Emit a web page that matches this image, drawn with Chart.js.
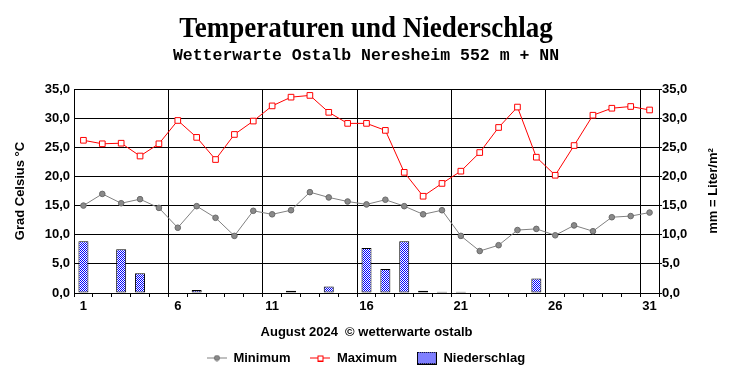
<!DOCTYPE html>
<html>
<head>
<meta charset="utf-8">
<script src="https://cdn.jsdelivr.net/npm/chart.js@4/dist/chart.umd.min.js"></script>
<style>
html,body{margin:0;padding:0;background:#fff;}
#wrap{width:732px;height:380px;position:relative;}
</style>
</head>
<body>
<div id="wrap"><canvas id="c" width="732" height="380"></canvas></div>
<script>
// ---- data ----
const days = ['1','2','3','4','5','6','7','8','9','10','11','12','13','14','15','16','17','18','19','20','21','22','23','24','25','26','27','28','29','30','31'];
const tickLabels = ['1','6','11','16','21','26','31'];
const minTemp = [15.0,17.0,15.4,16.1,14.6,11.2,14.9,12.9,9.8,14.1,13.5,14.2,17.3,16.4,15.7,15.2,16.0,14.9,13.5,14.2,9.8,7.2,8.2,10.8,11.0,9.9,11.6,10.6,13.0,13.2,13.8];
const maxTemp = [26.2,25.6,25.7,23.5,25.6,29.6,26.7,22.9,27.2,29.5,32.1,33.6,33.9,31.0,29.1,29.1,27.9,20.7,16.6,18.8,20.9,24.1,28.4,31.9,23.3,20.2,25.3,30.5,31.7,32.0,31.4];
const precip = [8.9,0,7.5,3.4,0,0,0.5,0,0,0,0,0.4,0,1.1,0,7.7,4.1,8.9,0.4,0.2,0.2,0,0,0,2.5,0,0,0,0,0,0];
const seriesNames = ['Minimum','Maximum','Niederschlag'];
const titleText = 'Temperaturen und Niederschlag';
const subtitleText = 'Wetterwarte Ostalb Neresheim 552 m + NN';
const xTitle = 'August 2024  \u00A9 wetterwarte ostalb';
const yLeftTitle = 'Grad Celsius \u00B0C';
const yRightTitle = 'mm = Liter/m\u00B2';
const axisMin = 0, axisMax = 35, axisStep = 5;

// ---- styles ----
const SANS = '"Liberation Sans", Arial, sans-serif';
const lblFont = {family: SANS, weight: 'bold', size: 13};
const minColor = '#808080';
const maxColor = '#ff0000';

// dotted blue pattern for precipitation bars
const pc = document.createElement('canvas');
pc.width = 2; pc.height = 2;
const pcx = pc.getContext('2d');
pcx.fillStyle = '#ffffff'; pcx.fillRect(0,0,2,2);
pcx.fillStyle = '#0000ff'; pcx.fillRect(0,0,1,1); pcx.fillRect(1,1,1,1);
const barPattern = pcx.createPattern(pc, 'repeat');

// legend icons
function icon(w, h, draw){ const c=document.createElement('canvas'); c.width=w; c.height=h; draw(c.getContext('2d')); return c; }
const minIcon = icon(20, 7, g => {
  g.strokeStyle = minColor; g.lineWidth = 1; g.beginPath(); g.moveTo(0,3.5); g.lineTo(20,3.5); g.stroke();
  g.fillStyle = '#8a8a8a'; g.strokeStyle='#6a6a6a'; g.beginPath(); g.arc(10,3.5,2.6,0,Math.PI*2); g.fill(); g.stroke();
});
const maxIcon = icon(20, 7, g => {
  g.strokeStyle = maxColor; g.lineWidth = 1; g.beginPath(); g.moveTo(0,3.5); g.lineTo(20,3.5); g.stroke();
  g.fillStyle = '#fff'; g.fillRect(7.5,1.5,5,5); g.strokeRect(7.5,1.5,5,5);
});
const barIcon = icon(20, 13, g => {
  g.fillStyle = barPattern; g.fillRect(0,0,20,13);
  g.strokeStyle = '#000'; g.lineWidth = 1; g.strokeRect(0.5,0.5,19,12);
});
const legendIcons = [minIcon, maxIcon, barIcon];

const fmt = v => Number(v).toFixed(1).replace('.', ',');

const textPlugin = {
  id: 'textPlugin',
  afterDraw(chart) {
    const ctx = chart.ctx, ca = chart.chartArea;
    ctx.save();
    ctx.fillStyle = '#000';
    ctx.textAlign = 'center';
    ctx.textBaseline = 'alphabetic';
    ctx.save();
    ctx.translate(366, 37);
    ctx.scale(0.9, 1);
    ctx.font = 'bold 30px "Liberation Serif", "Times New Roman", serif';
    ctx.fillText(titleText, 0, 0);
    ctx.restore();
    ctx.font = 'bold 16.5px "Liberation Mono", "Courier New", monospace';
    ctx.fillText(subtitleText, 366, 60);
    ctx.save();
    ctx.translate(713, (ca.top + ca.bottom) / 2);
    ctx.rotate(-Math.PI / 2);
    ctx.textBaseline = 'middle';
    ctx.font = 'bold 13px ' + SANS;
    ctx.fillText(yRightTitle, 0, 0);
    ctx.restore();
    ctx.restore();
  }
};

Chart.defaults.font.family = SANS;
Chart.defaults.color = '#000';

new Chart(document.getElementById('c'), {
  type: 'bar',
  data: {
    labels: days,
    datasets: [
      {
        type: 'line', label: seriesNames[0], data: minTemp, yAxisID: 'y',
        borderColor: minColor, borderWidth: 1, tension: 0,
        pointStyle: 'circle', pointRadius: 2.8, pointBackgroundColor: '#8a8a8a',
        pointBorderColor: '#6a6a6a', pointBorderWidth: 1
      },
      {
        type: 'line', label: seriesNames[1], data: maxTemp, yAxisID: 'y',
        borderColor: maxColor, borderWidth: 1, tension: 0,
        pointStyle: 'rect', pointRadius: 4, pointBackgroundColor: '#ffffff',
        pointBorderColor: maxColor, pointBorderWidth: 1
      },
      {
        type: 'bar', label: seriesNames[2], data: precip, yAxisID: 'y1',
        backgroundColor: barPattern, borderColor: '#000', borderWidth: 1,
        borderSkipped: false, barPercentage: 0.53, categoryPercentage: 1
      }
    ]
  },
  options: {
    responsive: false,
    animation: false,
    devicePixelRatio: 1,
    layout: {padding: {top: 89, left: 0, right: 0, bottom: 5.5}},
    plugins: {
      tooltip: {enabled: false},
      title: {display: false},
      legend: {
        position: 'bottom',
        labels: {
          usePointStyle: true, pointStyleWidth: 20, padding: 20,
          color: '#000', font: lblFont,
          generateLabels(chart) {
            const items = Chart.defaults.plugins.legend.labels.generateLabels(chart);
            items.forEach(it => { it.pointStyle = legendIcons[it.datasetIndex]; });
            return items;
          }
        }
      }
    },
    scales: {
      x: {
        type: 'category', offset: true,
        grid: {
          offset: true, lineWidth: 1, drawTicks: true, tickLength: 4, tickColor: '#000',
          color: c => (c.index > 0 && c.index < days.length && c.index % 5 === 0) ? '#000' : 'rgba(0,0,0,0)'
        },
        border: {color: '#000', width: 1},
        ticks: {
          autoSkip: false, maxRotation: 0, minRotation: 0, padding: 2, color: '#000', font: lblFont,
          callback: (v, i) => tickLabels.includes(days[i]) ? days[i] : ''
        },
        title: {display: true, text: xTitle, color: '#000', font: lblFont, padding: {top: 0, bottom: -8.3}},
        afterFit: s => { s.height = 38.5; }
      },
      y: {
        position: 'left', min: axisMin, max: axisMax,
        ticks: {stepSize: axisStep, callback: fmt, color: '#000', font: lblFont, padding: 4},
        grid: {color: '#000', lineWidth: 1, drawTicks: false},
        border: {color: '#000', width: 1},
        title: {display: true, text: yLeftTitle, color: '#000', font: lblFont, padding: {top: 12.2, bottom: 0}},
        afterFit: s => { s.width = 74; }
      },
      y1: {
        position: 'right', min: axisMin, max: axisMax,
        ticks: {stepSize: axisStep, callback: fmt, color: '#000', font: lblFont, padding: 0},
        grid: {drawOnChartArea: false, color: '#000', drawTicks: true, tickLength: 3},
        border: {color: '#000', width: 1},
        afterFit: s => { s.width = 73; }
      }
    }
  },
  plugins: [textPlugin]
});
</script>
</body>
</html>
